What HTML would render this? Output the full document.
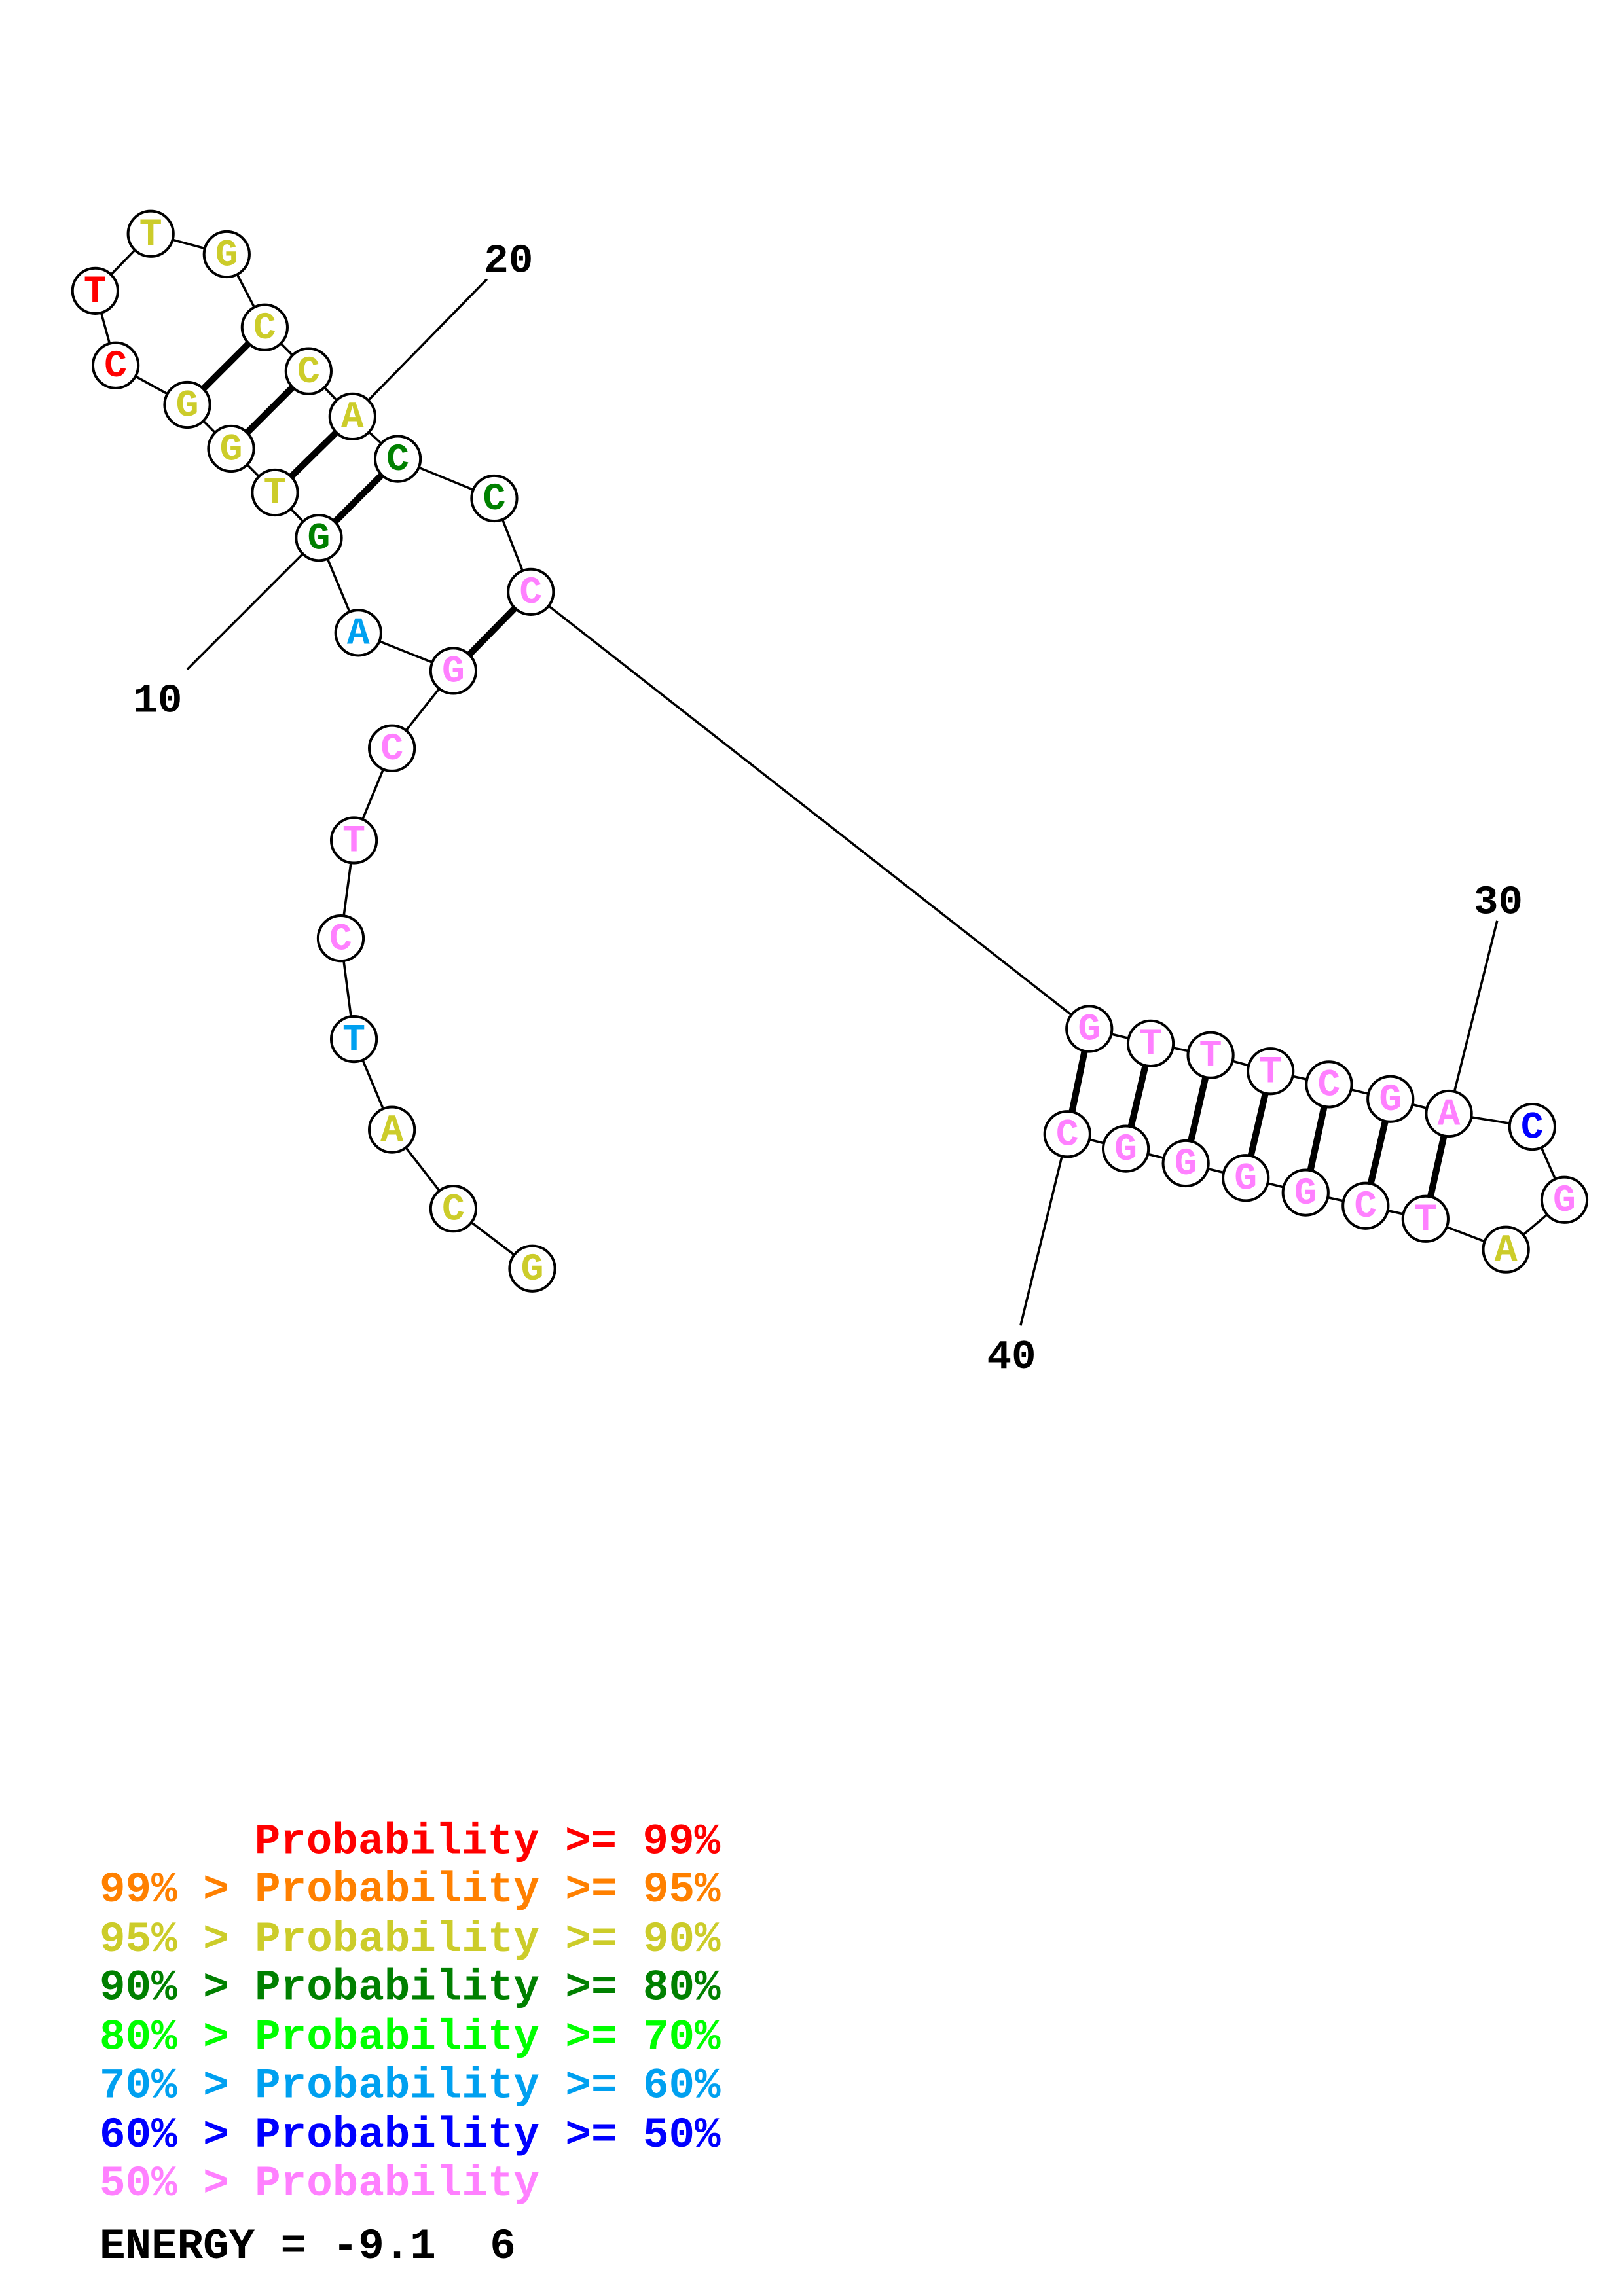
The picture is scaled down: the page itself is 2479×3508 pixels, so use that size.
<!DOCTYPE html>
<html><head><meta charset="utf-8"><style>
html,body{margin:0;padding:0;background:#fff;}
svg{display:block;}
.b{font-family:"Liberation Mono",monospace;font-weight:bold;font-size:26px;text-anchor:middle;dominant-baseline:central;}
.n{font-family:"Liberation Mono",monospace;font-weight:bold;font-size:28px;fill:#000;}
.l{font-family:"Liberation Mono",monospace;font-weight:bold;font-size:29.5px;}
</style></head><body>
<svg width="2479" height="3508" viewBox="0 0 1110 1571" xmlns="http://www.w3.org/2000/svg" xml:space="preserve">
<rect width="1110" height="1571" fill="#fff"/>
<g stroke="#000" stroke-width="1.6" fill="none">
<polyline points="364,868 310,827 268,773 242,711 233,642 242,575 268,512 310,459 245,433 218,368 188,337 158,307 128,277 79,250 65,199 103,160 155,174 181,224 211,254 241,285 272,314 338,341 363,405 745,704 787,714 828,722 869,733 909,742 951,752 991,762 1048,771 1070,821 1030,855 975,834 934,825 893,816 852,806 811,796 770,786 730,776"/>
<line x1="241" y1="285" x2="333" y2="191"/>
<line x1="218" y1="368" x2="128" y2="458"/>
<line x1="991" y1="762" x2="1024" y2="630"/>
<line x1="730" y1="776" x2="698" y2="907"/>
</g>
<g stroke="#000" stroke-width="4.5">
<line x1="310" y1="459" x2="363" y2="405"/>
<line x1="218" y1="368" x2="272" y2="314"/>
<line x1="188" y1="337" x2="241" y2="285"/>
<line x1="158" y1="307" x2="211" y2="254"/>
<line x1="128" y1="277" x2="181" y2="224"/>
<line x1="745" y1="704" x2="730" y2="776"/>
<line x1="787" y1="714" x2="770" y2="786"/>
<line x1="828" y1="722" x2="811" y2="796"/>
<line x1="869" y1="733" x2="852" y2="806"/>
<line x1="909" y1="742" x2="893" y2="816"/>
<line x1="951" y1="752" x2="934" y2="825"/>
<line x1="991" y1="762" x2="975" y2="834"/>
</g>
<g stroke="#000" stroke-width="1.8" fill="#fff">
<circle cx="364" cy="868" r="15.5"/><circle cx="310" cy="827" r="15.5"/><circle cx="268" cy="773" r="15.5"/><circle cx="242" cy="711" r="15.5"/><circle cx="233" cy="642" r="15.5"/><circle cx="242" cy="575" r="15.5"/><circle cx="268" cy="512" r="15.5"/><circle cx="310" cy="459" r="15.5"/><circle cx="245" cy="433" r="15.5"/><circle cx="218" cy="368" r="15.5"/><circle cx="188" cy="337" r="15.5"/><circle cx="158" cy="307" r="15.5"/><circle cx="128" cy="277" r="15.5"/><circle cx="79" cy="250" r="15.5"/><circle cx="65" cy="199" r="15.5"/><circle cx="103" cy="160" r="15.5"/><circle cx="155" cy="174" r="15.5"/><circle cx="181" cy="224" r="15.5"/><circle cx="211" cy="254" r="15.5"/><circle cx="241" cy="285" r="15.5"/><circle cx="272" cy="314" r="15.5"/><circle cx="338" cy="341" r="15.5"/><circle cx="363" cy="405" r="15.5"/><circle cx="745" cy="704" r="15.5"/><circle cx="787" cy="714" r="15.5"/><circle cx="828" cy="722" r="15.5"/><circle cx="869" cy="733" r="15.5"/><circle cx="909" cy="742" r="15.5"/><circle cx="951" cy="752" r="15.5"/><circle cx="991" cy="762" r="15.5"/><circle cx="1048" cy="771" r="15.5"/><circle cx="1070" cy="821" r="15.5"/><circle cx="1030" cy="855" r="15.5"/><circle cx="975" cy="834" r="15.5"/><circle cx="934" cy="825" r="15.5"/><circle cx="893" cy="816" r="15.5"/><circle cx="852" cy="806" r="15.5"/><circle cx="811" cy="796" r="15.5"/><circle cx="770" cy="786" r="15.5"/><circle cx="730" cy="776" r="15.5"/>
</g>
<g class="b">
<text x="364" y="869" fill="#cccc2a">G</text><text x="310" y="828" fill="#cccc2a">C</text><text x="268" y="774" fill="#cccc2a">A</text><text x="242" y="712" fill="#00a0f0">T</text><text x="233" y="643" fill="#ff80ff">C</text><text x="242" y="576" fill="#ff80ff">T</text><text x="268" y="513" fill="#ff80ff">C</text><text x="310" y="460" fill="#ff80ff">G</text><text x="245" y="434" fill="#00a0f0">A</text><text x="218" y="369" fill="#008000">G</text><text x="188" y="338" fill="#cccc2a">T</text><text x="158" y="308" fill="#cccc2a">G</text><text x="128" y="278" fill="#cccc2a">G</text><text x="79" y="251" fill="#ff0000">C</text><text x="65" y="200" fill="#ff0000">T</text><text x="103" y="161" fill="#cccc2a">T</text><text x="155" y="175" fill="#cccc2a">G</text><text x="181" y="225" fill="#cccc2a">C</text><text x="211" y="255" fill="#cccc2a">C</text><text x="241" y="286" fill="#cccc2a">A</text><text x="272" y="315" fill="#008000">C</text><text x="338" y="342" fill="#008000">C</text><text x="363" y="406" fill="#ff80ff">C</text><text x="745" y="705" fill="#ff80ff">G</text><text x="787" y="715" fill="#ff80ff">T</text><text x="828" y="723" fill="#ff80ff">T</text><text x="869" y="734" fill="#ff80ff">T</text><text x="909" y="743" fill="#ff80ff">C</text><text x="951" y="753" fill="#ff80ff">G</text><text x="991" y="763" fill="#ff80ff">A</text><text x="1048" y="772" fill="#0000ff">C</text><text x="1070" y="822" fill="#ff80ff">G</text><text x="1030" y="856" fill="#cccc2a">A</text><text x="975" y="835" fill="#ff80ff">T</text><text x="934" y="826" fill="#ff80ff">C</text><text x="893" y="817" fill="#ff80ff">G</text><text x="852" y="807" fill="#ff80ff">G</text><text x="811" y="797" fill="#ff80ff">G</text><text x="770" y="787" fill="#ff80ff">G</text><text x="730" y="777" fill="#ff80ff">C</text>
</g>
<text class="n" x="331" y="186">20</text>
<text class="n" x="91" y="487">10</text>
<text class="n" x="1008" y="625">30</text>
<text class="n" x="675" y="936">40</text>
<g class="l">
<text x="174" y="1268" fill="#ff0000">Probability &gt;= 99%</text>
<text x="68" y="1301" fill="#ff8000">99% &gt; Probability &gt;= 95%</text>
<text x="68" y="1335" fill="#cccc2a">95% &gt; Probability &gt;= 90%</text>
<text x="68" y="1368" fill="#008000">90% &gt; Probability &gt;= 80%</text>
<text x="68" y="1402" fill="#00ff00">80% &gt; Probability &gt;= 70%</text>
<text x="68" y="1435" fill="#00a0f0">70% &gt; Probability &gt;= 60%</text>
<text x="68" y="1469" fill="#0000ff">60% &gt; Probability &gt;= 50%</text>
<text x="68" y="1502" fill="#ff80ff">50% &gt; Probability</text>
<text x="68" y="1545" fill="#000">ENERGY = -9.1</text>
<text x="335" y="1545" fill="#000">6</text>
</g>
</svg>
</body></html>
